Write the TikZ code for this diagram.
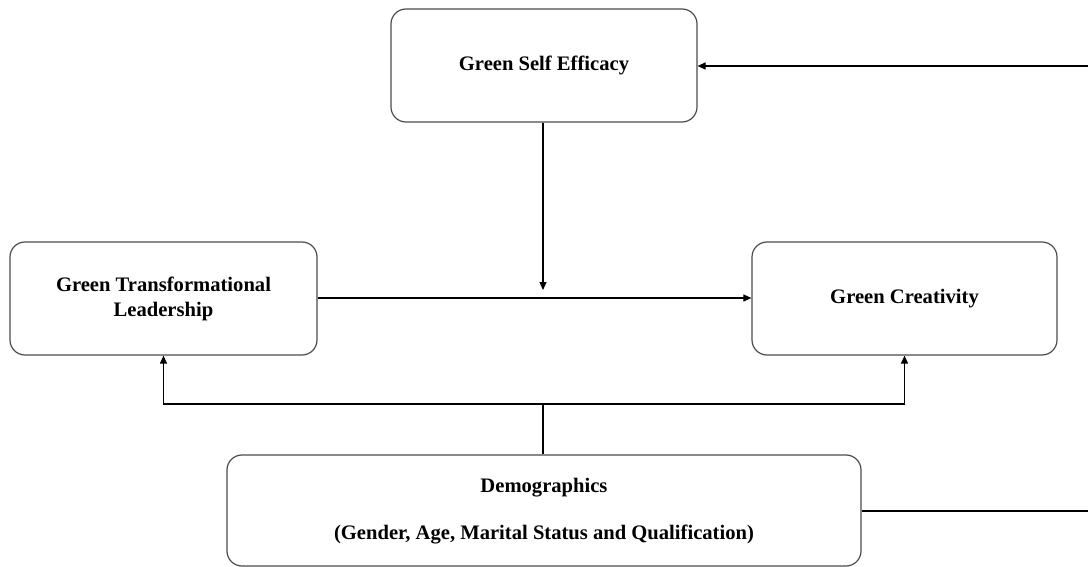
\documentclass[tikz,border=0pt]{standalone}
\usepackage{fontspec}
\setmainfont{Liberation Serif}
\usetikzlibrary{arrows.meta}
\begin{document}
\begin{tikzpicture}[x=0.5pt,y=-0.5pt,
  box/.style={draw=black!70, line width=0.6pt, rounded corners=7.5pt, inner sep=0pt,
    font=\bfseries\fontsize{10.3}{12.5}\selectfont, align=center},
  conn/.style={draw=black, line width=0.55pt},
  arr/.style={conn, -{Triangle[length=4pt,width=3.5pt]}}]
\useasboundingbox (0,0) rectangle (1088,567);
\node[box, minimum width=153pt, minimum height=56.5pt] (gse) at (544,65.5) {\raisebox{-1.5pt}{Green Self Efficacy}};
\node[box, minimum width=153.5pt, minimum height=56.5pt] (gtl) at (163.5,298.5) {Green Transformational\\Leadership};
\node[box, minimum width=152.5pt, minimum height=56.5pt] (gc) at (904.5,298.5) {\raisebox{-1pt}{Green Creativity}};
\node[box, minimum width=317pt, minimum height=55.5pt] (dem) at (544,510.5) {\raisebox{-2pt}{\begin{tabular}{@{}c@{}}Demographics\\[11pt](Gender, Age, Marital Status and Qualification)\end{tabular}}};
\coordinate (mid) at (543,298);
\coordinate (stop) at (543,290);
\coordinate (junc) at (543,404);
\coordinate (rt) at (1090,66);
\coordinate (rb) at (1090,511);
\draw[arr] (gtl.east |- mid) -- (gc.west |- mid);
\draw[arr] (gse.south -| stop) -- (stop);
\draw[conn] (dem.north -| junc) -- (junc);
\draw[arr] (junc) -| (gtl.south);
\draw[arr] (junc) -| (gc.south);
\draw[conn] (dem.east |- rb) -- (rb);
\draw[arr] (rt) -- (gse.east |- rt);
\end{tikzpicture}
\end{document}
